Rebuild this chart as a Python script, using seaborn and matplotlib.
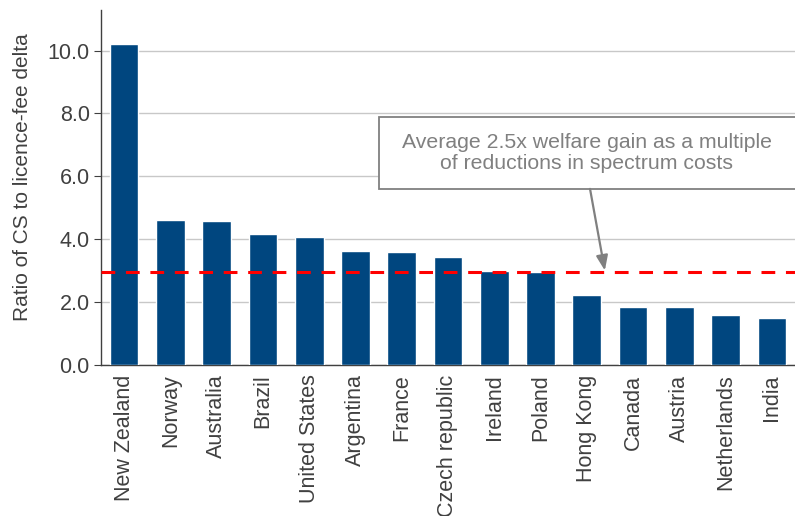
import pandas as pd
import numpy as np
import seaborn as sns
import matplotlib.pyplot as plt
from matplotlib.patches import Rectangle

countries = ["New Zealand", "Norway", "Australia", "Brazil", "United States", "Argentina",
             "France", "Czech republic", "Ireland", "Poland", "Hong Kong", "Canada",
             "Austria", "Netherlands", "India"]
ratios = [10.22, 4.62, 4.59, 4.17, 4.08, 3.63, 3.60, 3.44, 2.99, 2.96, 2.23, 1.85, 1.85, 1.59, 1.50]
average_line = 2.95
note = "Average 2.5x welfare gain as a multiple\nof reductions in spectrum costs"

df = pd.DataFrame({"country": countries, "ratio": ratios})

sns.set_style("white")
plt.rcParams['font.family'] = ['Liberation Sans', 'DejaVu Sans']

fig = plt.figure(figsize=(7.95, 5.16), dpi=100)
ax = fig.add_axes([0.127, 0.293, 0.873, 0.688])

sns.barplot(data=df, x="country", y="ratio", color="#00467f", saturation=1,
            width=0.62, ax=ax, zorder=3)

ax.set_ylim(0, 11.3)
ax.set_xlim(-0.5, len(countries) - 0.5)
ax.set_yticks(np.arange(0, 11, 2))
ax.set_yticklabels([f"{v:.1f}" for v in np.arange(0, 11, 2)], fontsize=15.5, color="#404040")
ax.yaxis.grid(True, color="#c8c8c8", linewidth=1, zorder=0)
ax.set_ylabel("Ratio of CS to licence-fee delta", fontsize=15, color="#404040")
ax.yaxis.set_label_coords(-0.1, 0.53)
ax.set_xlabel("")

ax.set_xticks(range(len(countries)))
ax.set_xticklabels(countries, rotation=90, fontsize=15.5, color="#404040")
ax.set_xticks(np.arange(-0.5, len(countries), 1), minor=True)
ax.tick_params(axis="x", which="major", length=0, pad=7)
ax.tick_params(axis="x", which="minor", length=5, color="#404040", direction="out")
ax.tick_params(axis="y", length=5, color="#404040", direction="out", left=True, pad=3)

for side in ["top", "right"]:
    ax.spines[side].set_visible(False)
for side in ["left", "bottom"]:
    ax.spines[side].set_color("#404040")
    ax.spines[side].set_linewidth(1)

ax.axhline(average_line, color="#ff0000", linestyle=(0, (4.5, 3.5)), linewidth=2.2, zorder=4)

# call-out box (runs off the right edge like the original)
ax.add_patch(Rectangle((0.4006, 0.496), 0.65, 0.203, transform=ax.transAxes,
                       fc="white", ec="#808080", lw=1.3, clip_on=False, zorder=5))
ax.text(10.0, 6.75, note, ha="center", va="center", fontsize=15.3, color="#808080",
        linespacing=1.15, zorder=6)
ax.annotate("", xy=(10.39, average_line + 0.05), xytext=(10.07, 5.6),
            annotation_clip=False,
            arrowprops=dict(arrowstyle="-|>,head_length=0.9,head_width=0.35",
                            color="#808080", lw=1.6, shrinkA=0, shrinkB=0), zorder=6)

plt.savefig("out.png", dpi=100)
